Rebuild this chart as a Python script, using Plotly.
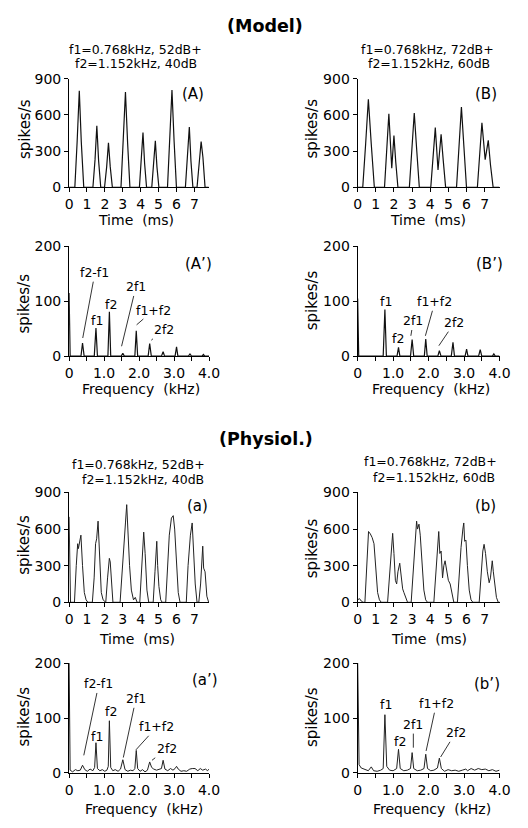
import plotly.graph_objects as go

# ---------------- DATA ----------------
# Model, 52dB+40dB period histogram (A)
tA = [0, 0.32, 0.45, 0.57, 0.68, 0.82, 1.33, 1.45, 1.55, 1.65, 1.77, 1.98, 2.1, 2.2, 2.3, 2.42,
      2.9, 3.02, 3.15, 3.27, 3.4, 3.93, 4.04, 4.13, 4.22, 4.33, 4.62, 4.73, 4.82, 4.91, 5.02,
      5.5, 5.62, 5.75, 5.87, 6.0, 6.5, 6.62, 6.72, 6.81, 6.92, 7.15, 7.27, 7.38, 7.48, 7.6, 7.8]
yA = [0, 0, 380, 800, 380, 0, 0, 230, 510, 220, 0, 0, 170, 370, 170, 0,
      0, 370, 790, 370, 0, 0, 210, 455, 200, 0, 0, 180, 385, 170, 0,
      0, 380, 805, 380, 0, 0, 230, 500, 220, 0, 0, 170, 380, 250, 0, 0]

# Model, 72dB+60dB period histogram (B)
tB = [0, 0.28, 0.44, 0.59, 0.75, 0.92, 1.48, 1.6, 1.72, 1.88, 2.0, 2.1, 2.22, 2.85, 2.98, 3.12,
      3.26, 3.4, 4.03, 4.15, 4.28, 4.43, 4.6, 4.72, 4.85, 5.45, 5.58, 5.72, 5.86, 6.0, 6.6, 6.72,
      6.85, 7.03, 7.2, 7.32, 7.47, 7.8]
yB = [0, 0, 360, 730, 360, 0, 0, 300, 610, 160, 430, 210, 0, 0, 300, 615,
      300, 0, 0, 240, 495, 145, 440, 220, 0, 0, 330, 665, 330, 0, 0, 260,
      535, 230, 390, 190, 0, 0]

# Model spectra (A') and (B')
fA = [0, 0.03, 0.34, 0.384, 0.43, 0.72, 0.768, 0.81, 1.11, 1.152, 1.19, 1.49, 1.536, 1.58,
      1.88, 1.92, 1.96, 2.26, 2.304, 2.35, 2.64, 2.688, 2.73, 3.03, 3.072, 3.11, 3.41, 3.456,
      3.5, 3.8, 3.84, 3.88, 4.0]
vA = [115, 0, 0, 24, 0, 0, 51, 0, 0, 81, 0, 0, 5, 0,
      0, 46, 0, 0, 23, 0, 0, 8, 0, 0, 17, 0, 0, 4,
      0, 0, 3, 0, 0]
fB = [0, 0.03, 0.72, 0.768, 0.81, 1.11, 1.152, 1.19, 1.49, 1.536, 1.58, 1.88, 1.92, 1.96,
      2.26, 2.304, 2.35, 2.64, 2.688, 2.73, 3.03, 3.072, 3.11, 3.41, 3.456, 3.5, 3.8, 3.84,
      3.88, 4.0]
vB = [105, 0, 0, 85, 0, 0, 16, 0, 0, 30, 0, 0, 31, 0,
      0, 10, 0, 0, 25, 0, 0, 13, 0, 0, 12, 0, 0, 4,
      0, 0]

# Physiological period histograms (a) and (b)
ta = [0, 0.08, 0.2, 0.3, 0.4, 0.48, 0.52, 0.58, 0.66, 0.75, 0.85, 0.95, 1.05, 1.3, 1.4, 1.48,
      1.54, 1.62, 1.7, 1.8, 1.9, 2.0, 2.05, 2.15, 2.25, 2.3, 2.38, 2.45, 2.85, 2.95, 3.05, 3.15,
      3.22, 3.28, 3.38, 3.48, 3.6, 3.7, 3.8, 3.95, 4.05, 4.17, 4.25, 4.35, 4.45, 4.7, 4.8, 4.9,
      4.95, 5.02, 5.12, 5.2, 5.4, 5.5, 5.6, 5.72, 5.82, 5.9, 6.0, 6.1, 6.2, 6.55, 6.65, 6.78,
      6.88, 6.95, 7.05, 7.15, 7.25, 7.35, 7.47, 7.52, 7.6, 7.7, 7.8]
ya = [700, 0, 0, 0, 300, 480, 440, 500, 550, 300, 80, 20, 0, 0, 200, 480,
      520, 665, 350, 80, 20, 0, 0, 200, 360, 330, 150, 0, 0, 250, 480, 650,
      800, 550, 300, 100, 20, 40, 0, 0, 300, 575, 400, 100, 0, 0, 250, 500,
      300, 130, 20, 0, 0, 250, 550, 690, 710, 600, 300, 80, 0, 0, 300, 550,
      650, 450, 150, 0, 0, 150, 460, 280, 250, 50, 0]
tb = [0, 0.1, 0.2, 0.3, 0.4, 0.5, 0.6, 0.7, 0.8, 0.9, 1.0, 1.1, 1.2, 1.3, 1.65, 1.75, 1.85,
      1.93, 2.0, 2.08, 2.15, 2.22, 2.32, 2.4, 2.48, 2.55, 2.65, 2.75, 2.95, 3.05, 3.15, 3.25,
      3.3, 3.38, 3.45, 3.55, 3.65, 3.75, 3.85, 4.2, 4.3, 4.4, 4.47, 4.53, 4.6, 4.68, 4.75, 4.82,
      4.9, 5.0, 5.1, 5.2, 5.3, 5.5, 5.6, 5.7, 5.8, 5.85, 5.9, 5.97, 6.05, 6.15, 6.25, 6.35,
      6.7, 6.8, 6.9, 6.97, 7.05, 7.15, 7.25, 7.32, 7.42, 7.48, 7.55, 7.65, 7.75, 7.85]
yb = [20, 30, 10, 0, 0, 250, 580, 560, 530, 480, 250, 80, 20, 0, 0, 200, 450,
      565, 400, 180, 150, 250, 320, 200, 110, 80, 30, 0, 0, 200, 450, 665,
      600, 640, 550, 300, 100, 20, 0, 0, 200, 450, 580, 400, 420, 200, 300, 340,
      280, 180, 150, 60, 0, 0, 250, 450, 600, 650, 500, 510, 300, 100, 20, 0,
      0, 250, 420, 475, 400, 250, 160, 200, 340, 250, 150, 40, 0, 0]

# Physiological spectra (a') and (b')
fa = [0, 0.03, 0.1, 0.18, 0.25, 0.32, 0.384, 0.45, 0.52, 0.6, 0.68, 0.73, 0.768, 0.81, 0.88,
      0.95, 1.02, 1.08, 1.12, 1.152, 1.19, 1.25, 1.32, 1.4, 1.47, 1.536, 1.6, 1.68, 1.75, 1.83,
      1.88, 1.92, 1.96, 2.03, 2.1, 2.17, 2.24, 2.304, 2.36, 2.42, 2.5, 2.58, 2.64, 2.688, 2.74,
      2.82, 2.9, 2.97, 3.03, 3.072, 3.12, 3.2, 3.28, 3.36, 3.45, 3.52, 3.6, 3.68, 3.75, 3.82,
      3.9, 3.96, 4.0]
va = [200, 5, 2, 6, 4, 5, 14, 6, 3, 7, 4, 10, 55, 8, 4,
      6, 3, 5, 12, 95, 10, 4, 6, 3, 7, 24, 6, 3, 5, 4,
      8, 41, 8, 3, 6, 2, 5, 20, 10, 7, 5, 6, 8, 23, 7,
      4, 8, 5, 8, 12, 7, 3, 4, 3, 7, 8, 8, 4, 8, 5,
      7, 4, 7]
fb = [0, 0.04, 0.1, 0.2, 0.3, 0.384, 0.45, 0.55, 0.65, 0.72, 0.768, 0.82, 0.9, 1.0, 1.1,
      1.152, 1.2, 1.3, 1.4, 1.49, 1.536, 1.58, 1.68, 1.78, 1.87, 1.92, 1.97, 2.06, 2.15, 2.25,
      2.304, 2.36, 2.45, 2.55, 2.65, 2.75, 2.85, 2.95, 3.05, 3.1, 3.2, 3.3, 3.4, 3.5, 3.6,
      3.7, 3.8, 3.9, 4.0]
vb = [205, 15, 9, 6, 4, 11, 4, 3, 5, 8, 106, 12, 5, 4, 8,
      43, 8, 4, 5, 8, 37, 8, 4, 5, 8, 34, 8, 4, 5, 9,
      27, 8, 3, 6, 4, 5, 3, 5, 7, 4, 8, 5, 8, 6, 7,
      4, 6, 3, 5]

time_ticks = [0, 1, 2, 3, 4, 5, 6, 7]
freq_ticks = [0, 0.5, 1.0, 1.5, 2.0, 2.5, 3.0, 3.5, 4.0]
freq_labels = ["0", "", "1.0", "", "2.0", "", "3.0", "", "4.0"]
rate_ticks = [0, 300, 600, 900]
spec_ticks = [0, 100, 200]

subtitle_52 = ["f1=0.768kHz, 52dB+", "f2=1.152kHz, 40dB"]
subtitle_72 = ["f1=0.768kHz, 72dB+", "f2=1.152kHz, 60dB"]

# spectral component labels: (text, text_x, text_y, tip_x, tip_y) ; tip None = no line
lab_Ap = [("f2-f1", 0.74, 152, 0.39, 33), ("f1", 0.80, 64, None, None), ("f2", 1.19, 94, None, None),
          ("2f1", 1.91, 126, 1.50, 18), ("f1+f2", 2.42, 84, 1.93, 57), ("2f2", 2.70, 48, 2.35, 29)]
lab_Bp = [("f1", 0.79, 99, None, None), ("f2", 1.15, 33, None, None), ("2f1", 1.57, 64, 1.50, 37),
          ("f1+f2", 2.18, 99, 1.91, 37), ("2f2", 2.73, 61, 2.29, 19)]
lab_ap = [("f2-f1", 0.85, 162, 0.42, 32), ("f1", 0.79, 67, None, None), ("f2", 1.21, 111, None, None),
          ("2f1", 1.91, 135, 1.55, 28), ("f1+f2", 2.51, 84, 1.91, 42), ("2f2", 2.79, 44, 2.37, 23)]
lab_bp = [("f1", 0.81, 125, None, None), ("f2", 1.19, 58, None, None), ("2f1", 1.57, 88, 1.57, 46),
          ("f1+f2", 2.22, 126, 1.93, 40), ("2f2", 2.76, 73, 2.34, 29)]

# ---------------- LAYOUT HELPERS ----------------
W, H = 528, 828
FONT = "DejaVu Sans"


def px(x):
    return x / W


def py(y):
    return 1 - y / H


xL = [px(67), px(211)]
xR = [px(364), px(510)]
rows = [[py(183), py(72)], [py(355), py(243)], [py(606), py(494)], [py(780), py(668)]]

fig = go.Figure()

panels = [
    # (x data, y data, xdom, ydom, kind, line width, color)
    (tA, yA, xL, rows[0], "time", 1.2, "#111"),
    (tB, yB, xR, rows[0], "time", 1.2, "#111"),
    (fA, vA, xL, rows[1], "freq", 1.2, "#111"),
    (fB, vB, xR, rows[1], "freq", 1.2, "#111"),
    (ta, ya, xL, rows[2], "time", 1.0, "#222"),
    (tb, yb, xR, rows[2], "time", 1.0, "#222"),
    (fa, va, xL, rows[3], "freq", 1.0, "#222"),
    (fb, vb, xR, rows[3], "freq", 1.0, "#222"),
]

layout = {}
for i, (xs, ys, xd, yd, kind, lw, col) in enumerate(panels, start=1):
    sfx = "" if i == 1 else str(i)
    fig.add_trace(go.Scatter(x=xs, y=ys, mode="lines", line=dict(color=col, width=lw),
                             xaxis="x" + sfx, yaxis="y" + sfx, showlegend=False,
                             hoverinfo="skip"))
    common = dict(showline=True, linecolor="black", linewidth=1, ticks="outside",
                  ticklen=4, tickwidth=1, tickcolor="black", showgrid=False, zeroline=False,
                  tickfont=dict(family=FONT, size=14, color="black"), fixedrange=True)
    if kind == "time":
        xa = dict(domain=xd, range=[0, 7.82], tickmode="array", tickvals=time_ticks,
                  ticktext=[str(v) for v in time_ticks], anchor="y" + sfx, **common)
        ya_ = dict(domain=yd, range=[0, 900], tickmode="array", tickvals=rate_ticks,
                   ticktext=[str(v) for v in rate_ticks], anchor="x" + sfx, **common)
    else:
        xa = dict(domain=xd, range=[0, 4.0], tickmode="array", tickvals=freq_ticks,
                  ticktext=freq_labels, anchor="y" + sfx, **common)
        ya_ = dict(domain=yd, range=[0, 200], tickmode="array", tickvals=spec_ticks,
                   ticktext=[str(v) for v in spec_ticks], anchor="x" + sfx, **common)
    layout["xaxis" + sfx] = xa
    layout["yaxis" + sfx] = ya_

ann = []


def ptext(text, x, y, size=14, bold=False, angle=0):
    ann.append(dict(text=("<b>%s</b>" % text) if bold else text, x=px(x), y=py(y),
                    xref="paper", yref="paper", showarrow=False, textangle=angle,
                    xanchor="center", yanchor="middle",
                    font=dict(family=FONT, size=size, color="black")))


# section titles
ptext("(Model)", 269, 18, size=17.5, bold=True)
ptext("(Physiol.)", 270, 440, size=17.5, bold=True)

# stimulus subtitles
ptext(subtitle_52[0], 135, 42, size=12.5)
ptext(subtitle_52[1], 136, 57, size=12.5)
ptext(subtitle_72[0], 436, 42, size=12.5)
ptext(subtitle_72[1], 437, 57, size=12.5)
ptext(subtitle_52[0], 138, 466, size=12.5)
ptext(subtitle_52[1], 143, 481, size=12.5)
ptext(subtitle_72[0], 439, 462, size=12.5)
ptext(subtitle_72[1], 443, 479, size=12.5)

# panel labels
ptext("(A)", 195, 88, size=15)
ptext("(B)", 496, 88, size=15)
ptext("(A’)", 200, 261, size=15)
ptext("(B’)", 500, 261, size=15)
ptext("(a)", 199, 508, size=15)
ptext("(b)", 496, 508, size=15)
ptext("(a’)", 207, 685, size=15)
ptext("(b’)", 497, 689, size=15)

# axis titles
for (x, y) in [(136, 216), (436, 216), (137, 643), (437, 643)]:
    ptext("Time  (ms)", x, y, size=14)
for (x, y) in [(141, 389), (439, 388), (144, 817), (440, 817)]:
    ptext("Frequency  (kHz)", x, y, size=14)
for (x, y) in [(21, 123), (317, 123), (21, 301), (317, 298), (21, 547), (317, 551), (21, 722), (317, 723)]:
    ptext("spikes/s", x, y, size=15, angle=-90)

# spectral component labels
for sfx, labs in [("3", lab_Ap), ("4", lab_Bp), ("7", lab_ap), ("8", lab_bp)]:
    for (t, tx, ty, ex, ey) in labs:
        if ex is None:
            ann.append(dict(text=t, x=tx, y=ty, xref="x" + sfx, yref="y" + sfx, showarrow=False,
                            font=dict(family=FONT, size=12.5, color="black")))
        else:
            ann.append(dict(text=t, x=ex, y=ey, ax=tx, ay=ty, xref="x" + sfx, yref="y" + sfx,
                            axref="x" + sfx, ayref="y" + sfx, showarrow=True, arrowhead=0,
                            arrowwidth=0.8, arrowcolor="black", standoff=0, startstandoff=0,
                            font=dict(family=FONT, size=12.5, color="black")))

fig.update_layout(width=W, height=H, margin=dict(l=0, r=0, t=0, b=0),
                  paper_bgcolor="white", plot_bgcolor="white", showlegend=False,
                  annotations=ann, **layout)

fig.write_html("out.html")
